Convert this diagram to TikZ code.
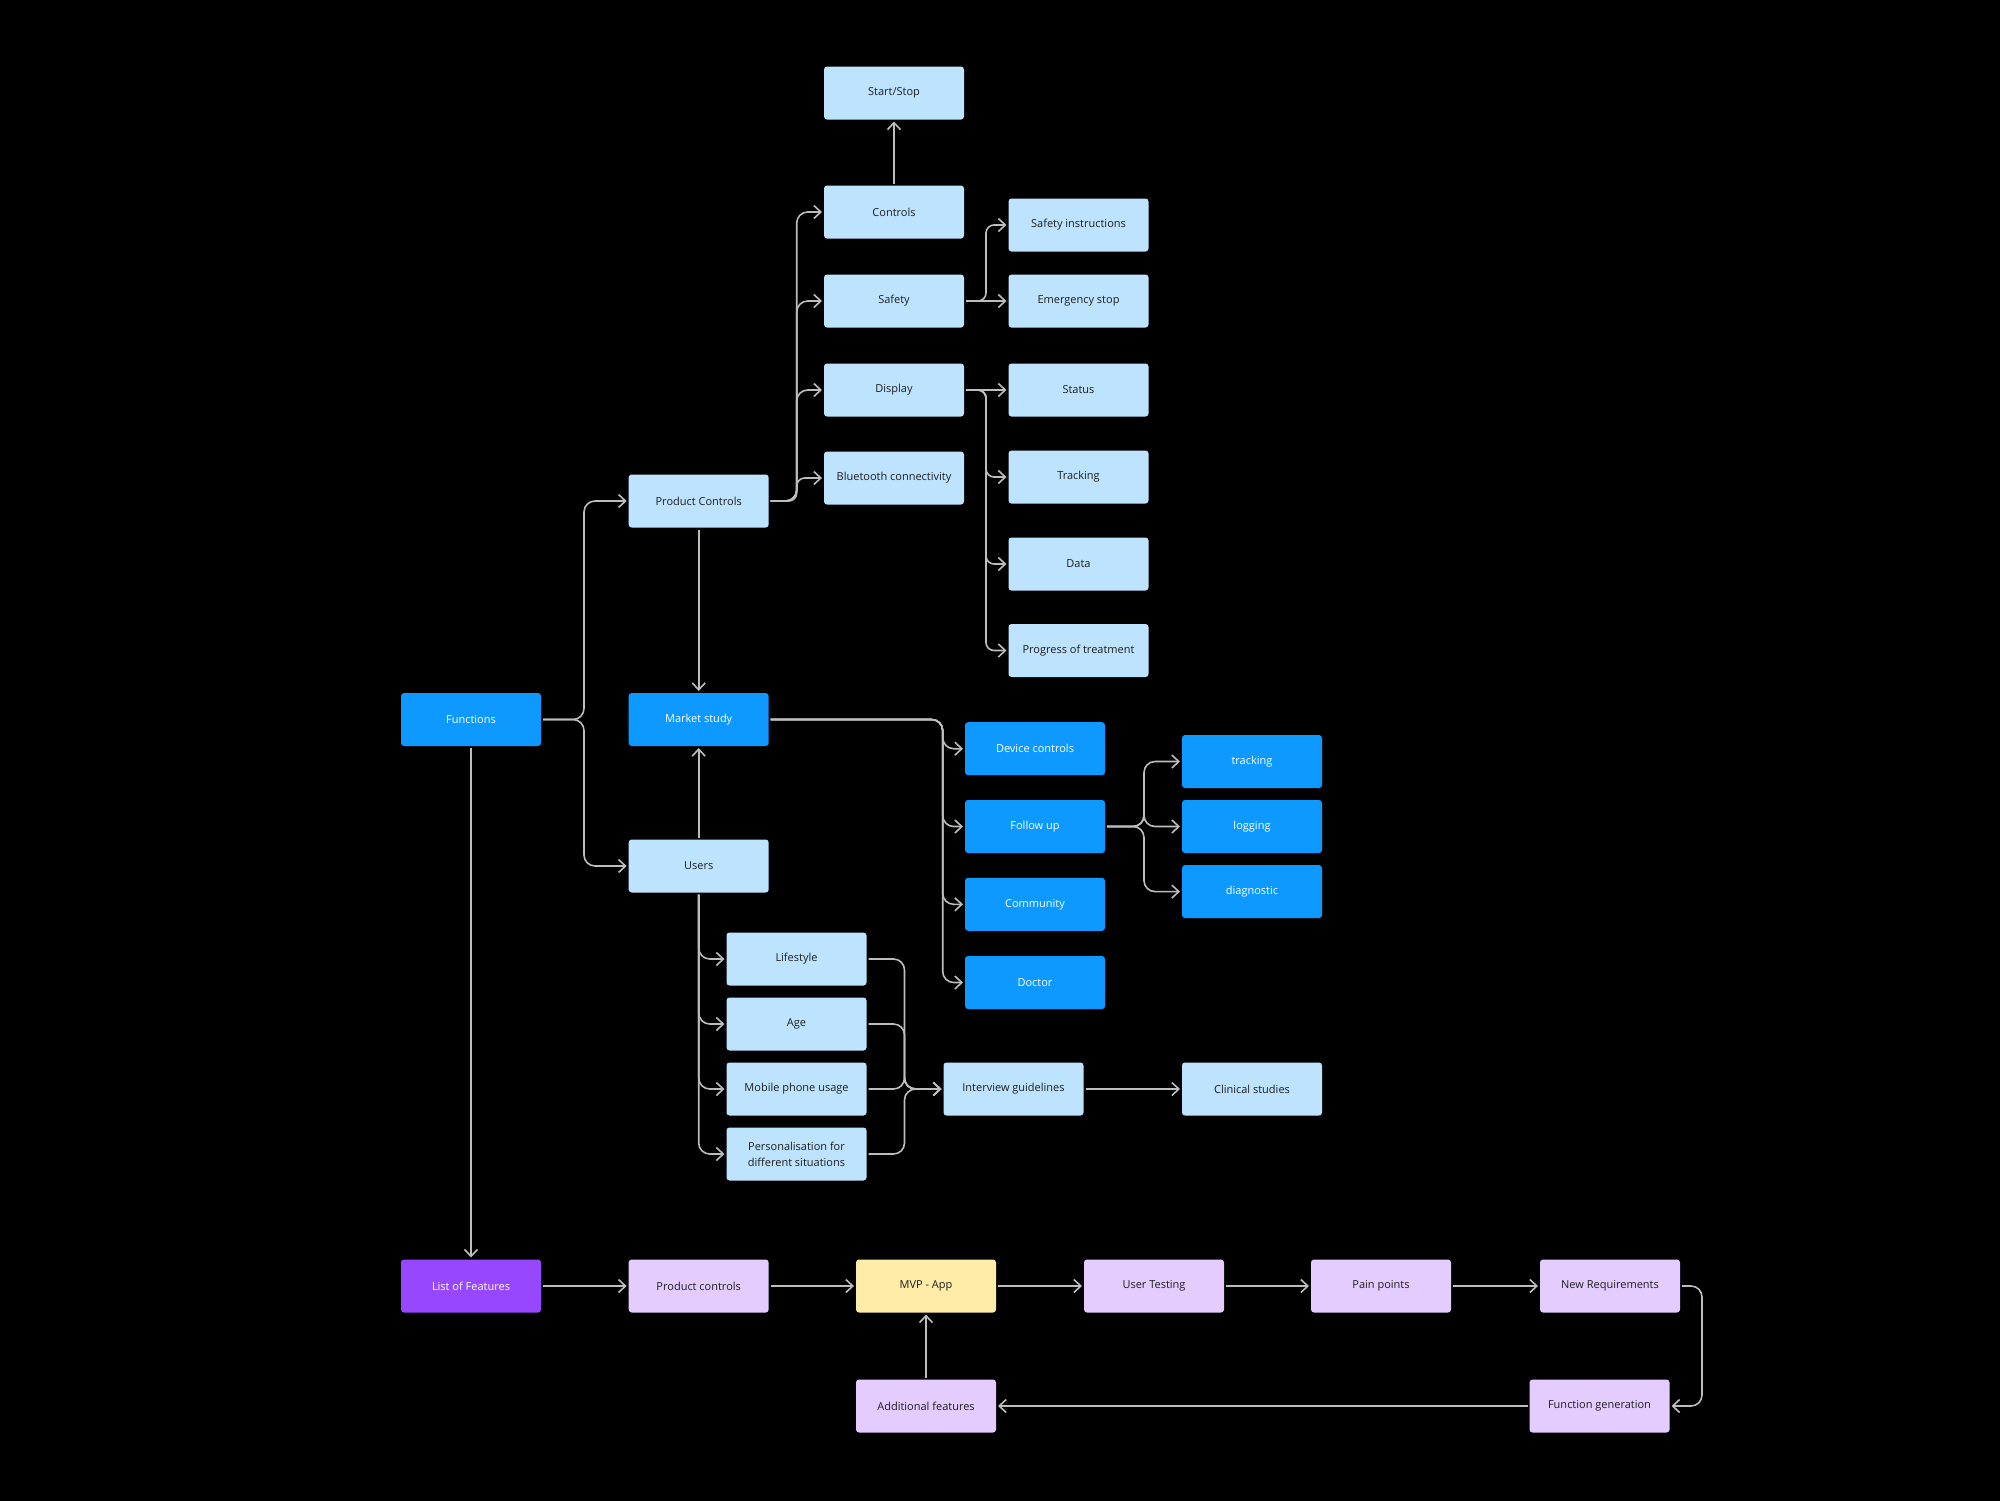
\documentclass[tikz,border=0pt]{standalone}
\usepackage{fontspec}
\setmainfont{Open Sans}
\usetikzlibrary{arrows.meta}

\definecolor{paleblue}{HTML}{BDE3FF}
\definecolor{deepblue}{HTML}{0D99FF}
\definecolor{violet}{HTML}{9747FF}
\definecolor{lavender}{HTML}{E4CCFF}
\definecolor{butter}{HTML}{FFECA8}
\definecolor{inkdark}{HTML}{1E1E1E}
\definecolor{wire}{HTML}{BDBDBD}

\begin{document}
\begin{tikzpicture}[x=1pt, y=-1pt,
		box/.style={rounded corners=3pt, minimum width=140pt, minimum height=53pt, outer sep=2pt, align=center, text=inkdark, font=\fontsize{11}{16}\selectfont},
		pale/.style={box, fill=paleblue},
		deep/.style={box, fill=deepblue, text=white},
		feat/.style={box, fill=violet, text=white},
		lilac/.style={box, fill=lavender},
		mvpbox/.style={box, fill=butter},
		link/.style={draw=wire, line width=1.6pt, rounded corners=11pt, -{Straight Barb[length=7pt, width=13pt, line width=1.6pt]}},
		tight/.style={link, rounded corners=8pt}]

				\useasboundingbox (0,0) rectangle (2000,1500);
				\fill[black] (-5,-5) rectangle (2005,1505);

				% top branch: product controls
				\node [pale] (start) at (894, 93) {Start/Stop};
				\node [pale] (ctrl) at (894, 212) {Controls};
				\node [pale] (safe) at (894, 301) {Safety};
				\node [pale] (disp) at (894, 390) {Display};
				\node [pale] (blue) at (894, 478) {Bluetooth connectivity};

				\node [pale] (sinst) at (1078.5, 225) {Safety instructions};
				\node [pale] (estop) at (1078.5, 301) {Emergency stop};
				\node [pale] (stat) at (1078.5, 390) {Status};
				\node [pale] (trk) at (1078.5, 477) {Tracking};
				\node [pale] (data) at (1078.5, 564) {Data};
				\node [pale] (prog) at (1078.5, 650.5) {Progress of treatment};

				\node [pale] (pc) at (698.7, 501) {Product Controls};

				% middle: functions, market study, users
				\node [deep] (fn) at (471, 719.5) {Functions};
				\node [deep] (ms) at (698.7, 719.5) {Market study};
				\node [pale] (users) at (698.7, 866) {Users};

				\node [deep] (dc) at (1035, 748.7) {Device controls};
				\node [deep] (fu) at (1035, 826.5) {Follow up};
				\node [deep] (comm) at (1035, 904.3) {Community};
				\node [deep] (doc) at (1035, 982.5) {Doctor};

				\node [deep] (tr) at (1252, 761.5) {tracking};
				\node [deep] (lg) at (1252, 826.5) {logging};
				\node [deep] (dg) at (1252, 891.6) {diagnostic};

				\node [pale] (life) at (796.5, 959) {Lifestyle};
				\node [pale] (age) at (796.5, 1024) {Age};
				\node [pale] (mob) at (796.5, 1089) {Mobile phone usage};
				\node [pale] (pers) at (796.5, 1154) {Personalisation for\\different situations};

				\node [pale] (ig) at (1013.5, 1089) {Interview guidelines};
				\node [pale] (cs) at (1252, 1089) {Clinical studies};

				% bottom loop
				\node [feat] (lof) at (471, 1286) {List of Features};
				\node [lilac] (pcb) at (698.7, 1286) {Product controls};
				\node [mvpbox] (mvp) at (926, 1286) {MVP - App};
				\node [lilac] (ut) at (1154, 1286) {User Testing};
				\node [lilac] (pp) at (1381, 1286) {Pain points};
				\node [lilac] (nr) at (1610, 1286) {New Requirements};
				\node [lilac] (fg) at (1599.5, 1406) {Function generation};
				\node [lilac] (af) at (926, 1406) {Additional features};

				% connectors
				\draw [link] (fn.east) -- ++(41,0) |- (pc.west);
				\draw [link] (fn.east) -- ++(41,0) |- (users.west);
				\draw [link] (fn.south) -- (lof.north);
				\draw [link] (pc.south) -- (ms.north);
				\draw [link] (users.north) -- (ms.south);

				\foreach \n in {ctrl, safe, disp}
					\draw [link] (pc.east) -- ++(26,0) |- (\n.west);
				\draw [tight] (pc.east) -- ++(26,0) |- (blue.west);
				\draw [link] (ctrl.north) -- (start.south);

				\draw [tight] (safe.east) -- ++(20,0) |- (sinst.west);
				\draw [link] (safe.east) -- (estop.west);
				\draw [link] (disp.east) -- (stat.west);
				\foreach \n in {trk, data, prog}
					\draw [tight] (disp.east) -- ++(20,0) |- (\n.west);

				\foreach \n in {dc, fu, comm, doc}
					\draw [link] (ms.east) -- ++(172,0) |- (\n.west);
				\foreach \n in {tr, lg, dg}
					\draw [link] (fu.east) -- ++(37,0) |- (\n.west);

				\foreach \n in {life, age, mob, pers} {
					\draw [link] (users.south) |- (\n.west);
					\draw [link] (\n.east) -- ++(36,0) |- (ig.west);
				}
				\draw [link] (ig.east) -- (cs.west);

				\draw [link] (lof.east) -- (pcb.west);
				\draw [link] (pcb.east) -- (mvp.west);
				\draw [link] (mvp.east) -- (ut.west);
				\draw [link] (ut.east) -- (pp.west);
				\draw [link] (pp.east) -- (nr.west);
				\draw [link] (nr.east) -- ++(20,0) |- (fg.east);
				\draw [link] (fg.west) -- (af.east);
				\draw [link] (af.north) -- (mvp.south);

		\end{tikzpicture}
\end{document}
